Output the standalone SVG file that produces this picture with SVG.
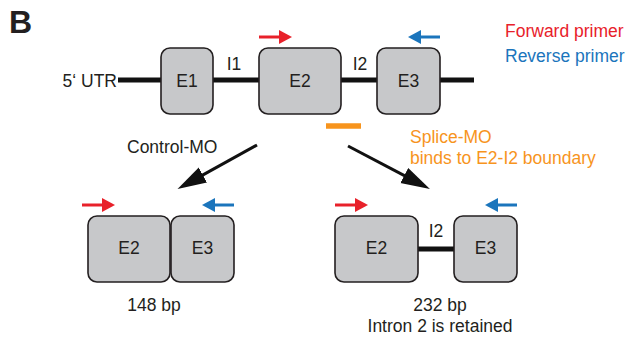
<svg xmlns="http://www.w3.org/2000/svg" width="630" height="343" viewBox="0 0 630 343">
  <style>
    text { font-family: "Liberation Sans", Arial, sans-serif; font-size: 17.5px; fill: #231f20; }
    .exon { fill: #c7c8ca; stroke: #231f20; stroke-width: 1.6; }
    .intron { stroke: #111; stroke-width: 5; fill: none; }
    .fwd { stroke: #e8212a; stroke-width: 3; fill: none; }
    .rev { stroke: #1b75bc; stroke-width: 3; fill: none; }
    .flow { stroke: #111; stroke-width: 3; fill: none; }
    .mid { text-anchor: middle; }
  </style>
  <defs>
    <marker id="headRed" markerUnits="userSpaceOnUse" markerWidth="14" markerHeight="14" refX="0" refY="7" orient="auto" viewBox="0 0 14 14">
      <path d="M0,0 L13,7 L0,14 z" fill="#e8212a"/>
    </marker>
    <marker id="headBlue" markerUnits="userSpaceOnUse" markerWidth="14" markerHeight="14" refX="0" refY="7" orient="auto" viewBox="0 0 14 14">
      <path d="M0,0 L13,7 L0,14 z" fill="#1b75bc"/>
    </marker>
    <marker id="headBlack" markerUnits="userSpaceOnUse" markerWidth="30" markerHeight="18" refX="5" refY="9" orient="auto" viewBox="0 0 30 18">
      <path d="M0,0.5 L29,9 L0,17.5 z" fill="#111"/>
    </marker>
  </defs>

  <!-- panel letter -->
  <text x="9" y="33" style="font-size:32px;font-weight:bold">B</text>

  <!-- legend -->
  <text x="505" y="37" style="fill:#e8212a">Forward primer</text>
  <text x="505" y="62" style="fill:#1b75bc">Reverse primer</text>

  <!-- connectors -->
  <g id="connectors">
    <path class="intron" d="M118,80 H474"/>
    <path class="intron" d="M418,249 H454"/>
    <path class="flow" d="M257,145 L198.5,177.4" marker-end="url(#headBlack)"/>
    <path class="flow" d="M348,146 L408.7,177.9" marker-end="url(#headBlack)"/>
  </g>

  <!-- pre-mRNA -->
  <g id="gene">
    <text x="117" y="87" style="text-anchor:end">5‘ UTR</text>
    <text class="mid" x="234" y="70">I1</text>
    <text class="mid" x="360" y="70">I2</text>
  </g>
  <g id="exon-E1">
    <rect class="exon" x="161" y="48" width="52" height="66" rx="9"/>
    <text class="mid" x="187" y="87">E1</text>
  </g>
  <g id="exon-E2">
    <rect class="exon" x="259" y="48" width="82" height="66" rx="9"/>
    <text class="mid" x="300" y="87">E2</text>
  </g>
  <g id="exon-E3">
    <rect class="exon" x="377" y="48" width="63" height="66" rx="9"/>
    <text class="mid" x="408.5" y="87">E3</text>
  </g>
  <g id="primers-top">
    <path class="fwd" d="M259,37 H279" marker-end="url(#headRed)"/>
    <path class="rev" d="M440,37 H421" marker-end="url(#headBlue)"/>
  </g>

  <!-- morpholinos -->
  <g id="splice-mo">
    <path d="M326,126 H361" stroke="#f7941d" stroke-width="5.5"/>
    <text x="410" y="143" style="fill:#f7941d">Splice-MO</text>
    <text x="410" y="164" style="fill:#f7941d">binds to E2-I2 boundary</text>
  </g>
  <g id="control-mo">
    <text x="127" y="153">Control-MO</text>
  </g>

  <!-- spliced product -->
  <g id="product-control">
    <rect class="exon" x="88" y="216" width="82" height="66" rx="9"/>
    <text class="mid" x="129" y="254">E2</text>
    <rect class="exon" x="171" y="216" width="63" height="66" rx="9"/>
    <text class="mid" x="202.5" y="254">E3</text>
    <path class="fwd" d="M82,205 H102" marker-end="url(#headRed)"/>
    <path class="rev" d="M234,205 H215" marker-end="url(#headBlue)"/>
    <text class="mid" x="154" y="311">148 bp</text>
  </g>

  <!-- intron-retaining product -->
  <g id="product-splice">
    <rect class="exon" x="335" y="216" width="83" height="66" rx="9"/>
    <text class="mid" x="376.5" y="254">E2</text>
    <text class="mid" x="436" y="237">I2</text>
    <rect class="exon" x="454" y="216" width="63" height="66" rx="9"/>
    <text class="mid" x="485.5" y="254">E3</text>
    <path class="fwd" d="M335,205 H355" marker-end="url(#headRed)"/>
    <path class="rev" d="M517,205 H498" marker-end="url(#headBlue)"/>
    <text class="mid" x="440" y="311">232 bp</text>
    <text class="mid" x="440" y="332">Intron 2 is retained</text>
  </g>
</svg>
